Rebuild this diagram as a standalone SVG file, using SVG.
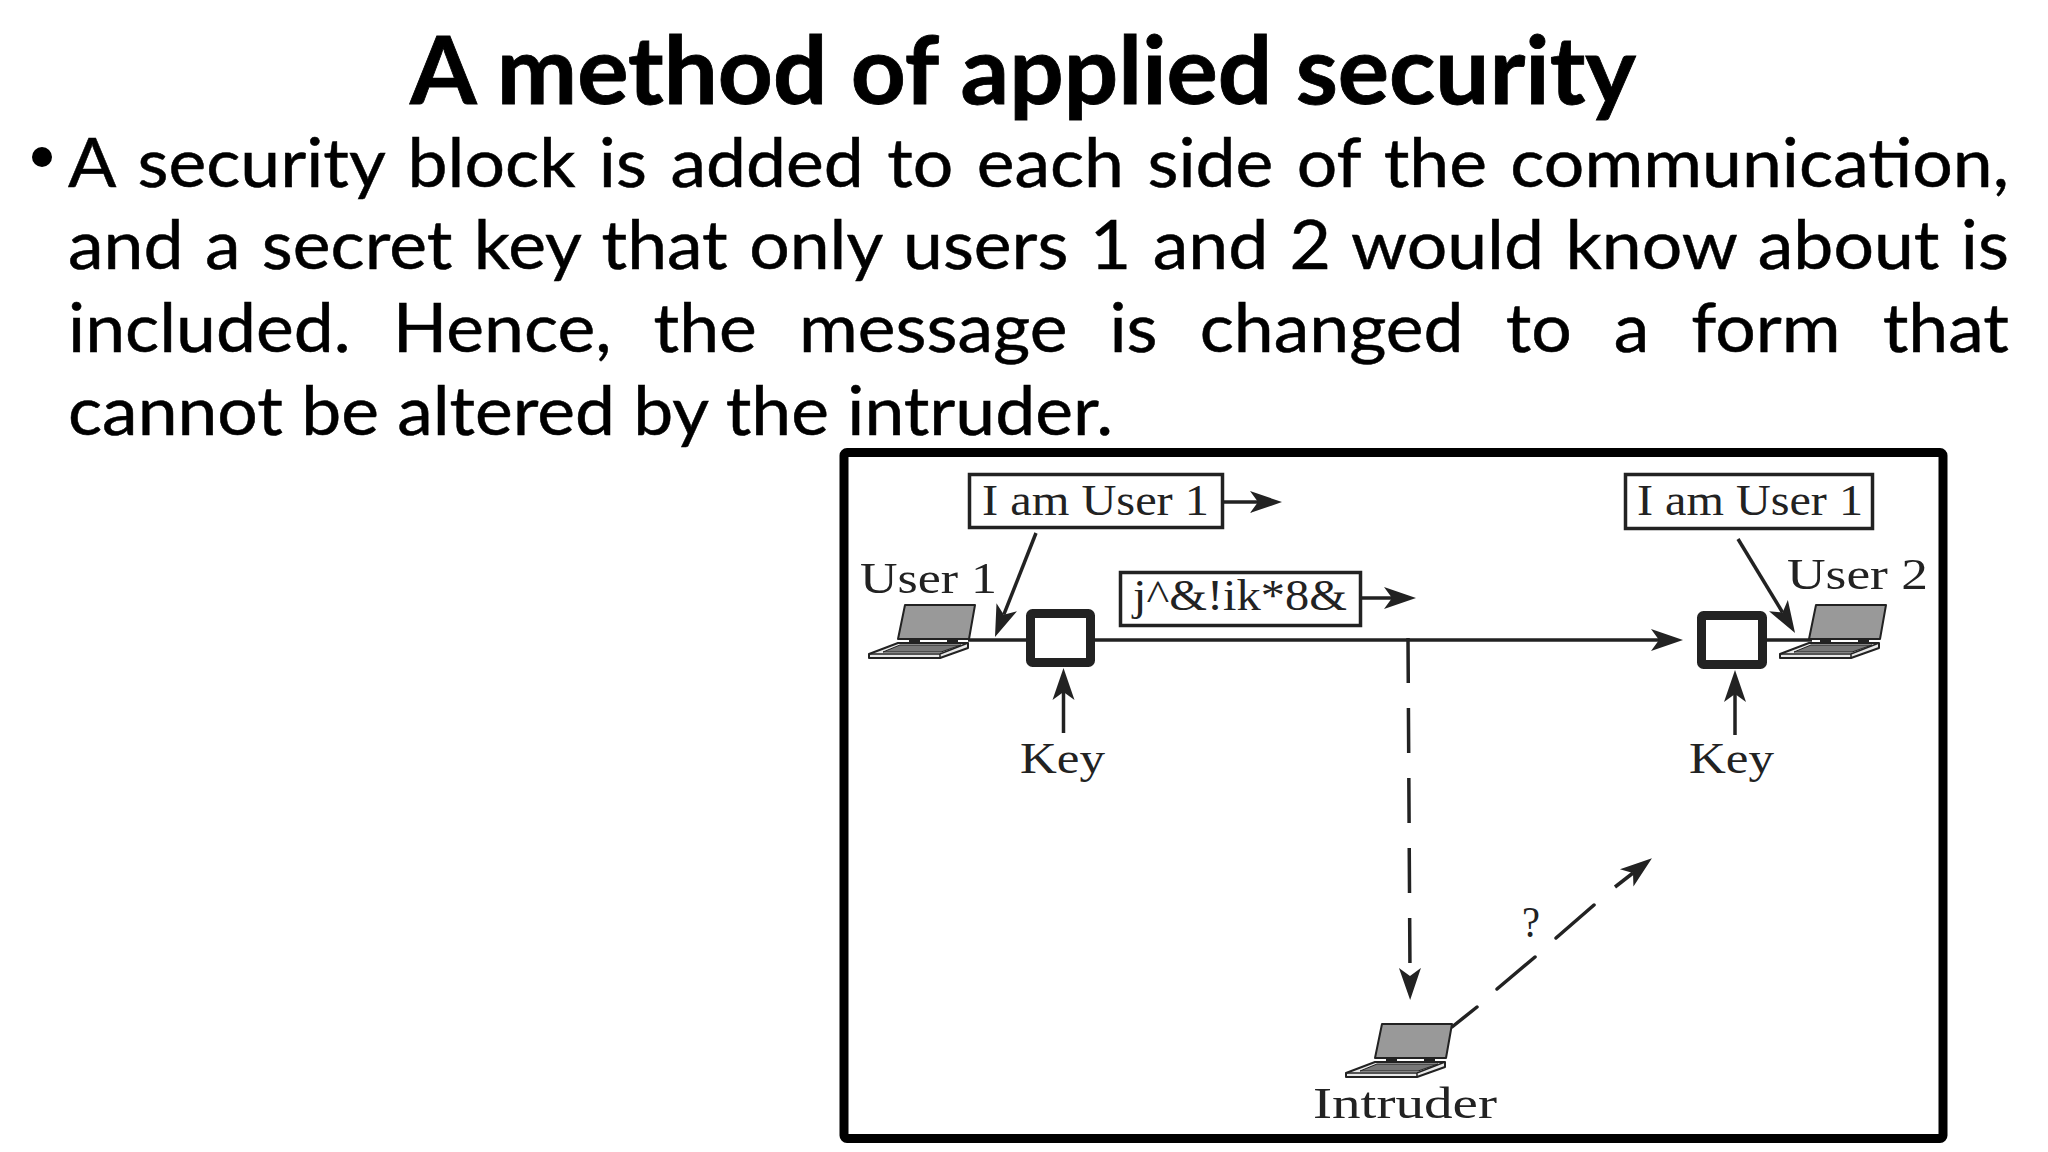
<svg xmlns="http://www.w3.org/2000/svg" xmlns:xlink="http://www.w3.org/1999/xlink" width="2048" height="1152" viewBox="0 0 2048 1152">
<style>
.title{font-family:"Lato","Carlito","Liberation Sans",sans-serif;font-weight:700;font-size:93px;fill:#000;stroke:#000;stroke-width:.8}
.body{font-family:"Lato","Carlito","Liberation Sans",sans-serif;font-size:67.5px;fill:#000;stroke:#000;stroke-width:.5}
.lab{font-family:"Liberation Serif","DejaVu Serif",serif;font-size:45px;fill:#222}
.box{fill:#fff;stroke:#222;stroke-width:3.5}
.block{fill:#fff;stroke:#222;stroke-width:9;stroke-linejoin:round}
.ln{fill:none;stroke:#222;stroke-width:3.5}
.dash{fill:none;stroke:#222;stroke-width:3.5;stroke-linecap:round}
.ar{marker-end:url(#head)}
</style>
<defs>
<marker id="head" markerUnits="userSpaceOnUse" markerWidth="36" markerHeight="24" refX="8" refY="12" orient="auto">
<path d="M0,1 L32,12 L0,23 L8,12 Z" fill="#222"/>
</marker>
<g id="laptop">
<path d="M0,49 L29,38 L99,38 L99,43 L71,53 L0,53 Z" fill="#e8e8e8" stroke="#222" stroke-width="2" stroke-linejoin="round"/>
<path d="M14,47 L31,40 L92,40 L72,47 Z" fill="#777" stroke="#222" stroke-width="1"/>
<path d="M0,49 L71,49 L99,38 M71,49 L71,53" fill="none" stroke="#222" stroke-width="1.5"/>
<path d="M36,0 L106,0 L100,34 L29,34 Z" fill="#999" stroke="#222" stroke-width="2" stroke-linejoin="round"/>
<rect x="40" y="34" width="11" height="4" fill="#222"/><rect x="78" y="34" width="11" height="4" fill="#222"/>
</g>
</defs>
<rect width="2048" height="1152" fill="#fff"/>
<text id="title" class="title" x="410" y="104" textLength="1226" lengthAdjust="spacingAndGlyphs">A method of applied security</text>
<g id="bullets">
<circle cx="42" cy="157" r="10" fill="#000"/>
<text class="body" x="68" y="187" word-spacing="4.8" textLength="1941" lengthAdjust="spacingAndGlyphs">A security block is added to each side of the communication,</text>
<text class="body" x="68" y="269" word-spacing="2.9" textLength="1941" lengthAdjust="spacingAndGlyphs">and a secret key that only users 1 and 2 would know about is</text>
<text class="body" x="68" y="352" word-spacing="22.4" textLength="1941" lengthAdjust="spacingAndGlyphs">included. Hence, the message is changed to a form that</text>
<text class="body" x="68" y="435" textLength="1045" lengthAdjust="spacingAndGlyphs">cannot be altered by the intruder.</text>
</g>
<rect id="frame" x="844" y="452.5" width="1099" height="686" rx="3" fill="#fff" stroke="#000" stroke-width="9"/>
<g id="connectors">
<path class="ln" d="M968,640 H1030"/>
<path class="ln ar" d="M1091,640 H1659"/>
<path class="ln" d="M1763,640 H1812"/>
<path class="ln ar" d="M1224,502 H1258"/>
<path class="ln ar" d="M1362,598 H1392"/>
<path class="ln ar" d="M1036,533 L1003.8,614.7"/>
<path class="ln ar" d="M1738,539 L1782.6,612.5"/>
<path class="ln ar" d="M1063.5,733 V692"/>
<path class="ln ar" d="M1735,735 V694"/>
<path class="ln ar" stroke-dasharray="45 25" d="M1408,638 L1410,976"/>
<path class="dash" d="M1452,1027 L1477,1007 M1497,989 L1535,957 M1556,938 L1594,905"/>
<path class="ln ar" d="M1615,887 L1633,873"/>
</g>
<g id="user1">
<use href="#laptop" xlink:href="#laptop" x="869" y="605"/>
<text class="lab" x="860" y="593" textLength="137" lengthAdjust="spacingAndGlyphs">User 1</text>
</g>
<g id="user2">
<use href="#laptop" xlink:href="#laptop" x="1780" y="605"/>
<text class="lab" x="1787" y="589" textLength="141" lengthAdjust="spacingAndGlyphs">User 2</text>
</g>
<g id="intruder">
<use href="#laptop" xlink:href="#laptop" x="1346" y="1024"/>
<text class="lab" x="1313" y="1118" textLength="184" lengthAdjust="spacingAndGlyphs">Intruder</text>
</g>
<g id="msg1">
<rect class="box" x="969.5" y="474.5" width="253" height="53"/>
<text class="lab" x="982" y="515" textLength="227" lengthAdjust="spacingAndGlyphs">I am User 1</text>
</g>
<g id="msg2">
<rect class="box" x="1625.5" y="474.5" width="247" height="54"/>
<text class="lab" x="1637" y="515" textLength="226" lengthAdjust="spacingAndGlyphs">I am User 1</text>
</g>
<g id="cipher">
<rect class="box" x="1120.5" y="572.5" width="240" height="53"/>
<text class="lab" x="1133" y="610" textLength="214" lengthAdjust="spacingAndGlyphs">j^&amp;!ik*8&amp;</text>
</g>
<g id="block1"><rect class="block" x="1030.5" y="613.5" width="60" height="49" rx="2"/></g>
<g id="block2"><rect class="block" x="1701.5" y="615.5" width="61" height="49" rx="2"/></g>
<g id="key1"><text class="lab" x="1020" y="773" textLength="85" lengthAdjust="spacingAndGlyphs">Key</text></g>
<g id="key2"><text class="lab" x="1689" y="773" textLength="85" lengthAdjust="spacingAndGlyphs">Key</text></g>
<g id="question"><text class="lab" x="1522" y="937" textLength="18" lengthAdjust="spacingAndGlyphs">?</text></g>
</svg>
